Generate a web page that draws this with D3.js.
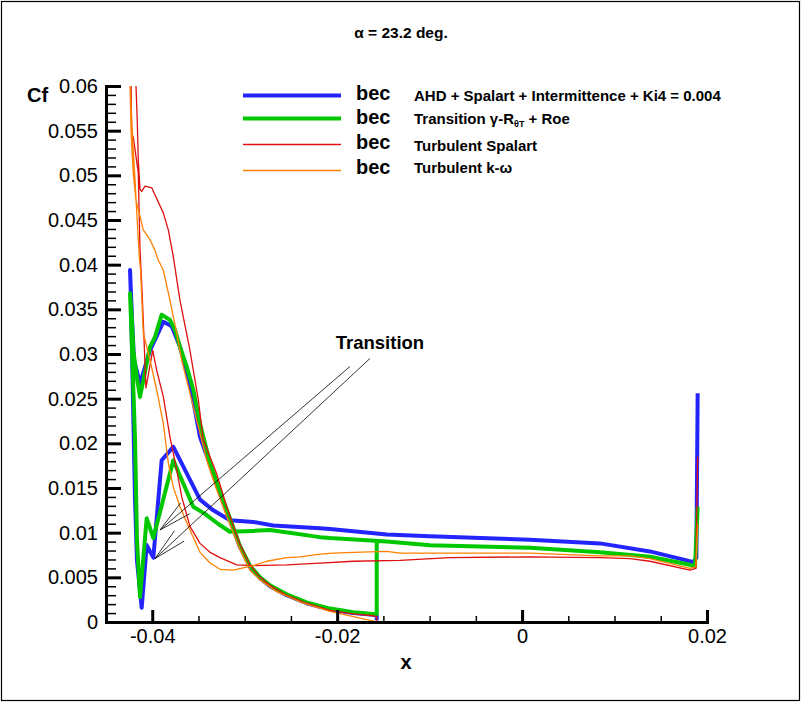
<!DOCTYPE html>
<html>
<head>
<meta charset="utf-8">
<script src="https://cdn.jsdelivr.net/npm/d3@7"></script>
<style>
  body { margin: 0; background: #fff; }
  text { font-family: "Liberation Sans", Arial, Helvetica, sans-serif; }
</style>
</head>
<body>
<svg id="chart" width="802" height="703"></svg>
<script>
// tick values and labels
let xMajor = [-0.04, -0.02, 0, 0.02]
let xLabels = ['-0.04', '-0.02', '0', '0.02']
let xMinor = [-0.045, -0.035, -0.03, -0.025, -0.015, -0.01, -0.005, 0.005, 0.01, 0.015]
let yMajor = [0, 0.005, 0.01, 0.015, 0.02, 0.025, 0.03, 0.035, 0.04, 0.045, 0.05, 0.055, 0.06]
let yLabels = ['0', '0.005', '0.01', '0.015', '0.02', '0.025', '0.03', '0.035', '0.04', '0.045', '0.05', '0.055', '0.06']

// legend
let seriesNames = ['AHD + Spalart + Intermittence + Ki4 = 0.004', 'Transition', 'Turbulent Spalart', 'Turbulent k-\u03c9']
let seriesColors = ['#2424ff', '#00c800', '#e01010', '#ff8000']
let seriesWidths = [4, 4, 1.3, 1.3]

// Cf along the slat, [x, Cf], traced around the surface
let ahdCf = [
  [0.01899, 0.0256], [0.01885, 0.0072], [0.01852, 0.0067], [0.01780, 0.0069], [0.01383, 0.0079],
  [0.00843, 0.0088], [0.00086, 0.0092], [-0.00996, 0.0096], [-0.01464, 0.0098], [-0.02077, 0.0104],
  [-0.02186, 0.0105], [-0.02691, 0.0108], [-0.02907, 0.0112], [-0.03159, 0.0114], [-0.03340, 0.0125],
  [-0.03483, 0.0137], [-0.03772, 0.0196], [-0.03898, 0.0181], [-0.03988, 0.0072], [-0.04060, 0.0086],
  [-0.04114, 0.0016], [-0.04165, 0.0069], [-0.04186, 0.0137], [-0.04208, 0.0249], [-0.04229, 0.0360],
  [-0.04240, 0.0394], [-0.04218, 0.0338], [-0.04197, 0.0293], [-0.04132, 0.0267], [-0.04024, 0.0304],
  [-0.03880, 0.0336], [-0.03789, 0.0331], [-0.03700, 0.0308], [-0.03592, 0.0267], [-0.03483, 0.0207],
  [-0.03375, 0.0176], [-0.03267, 0.0144], [-0.03159, 0.0114], [-0.03051, 0.0084], [-0.02943, 0.0062],
  [-0.02834, 0.0049], [-0.02726, 0.0040], [-0.02546, 0.0030], [-0.02330, 0.0021], [-0.02077, 0.0014],
  [-0.01825, 0.0010], [-0.01609, 0.0008], [-0.01572, 0.0007], [-0.01572, 0.0002]
]
let transitionCf = [
  [0.01899, 0.0129], [0.01870, 0.0062], [0.01816, 0.0064], [0.01383, 0.0073], [0.00843, 0.0078],
  [0.00086, 0.0083], [-0.00996, 0.0086], [-0.01464, 0.0090], [-0.02077, 0.0094], [-0.02186, 0.0095],
  [-0.02726, 0.0103], [-0.02907, 0.0102], [-0.03159, 0.0101], [-0.03289, 0.0110], [-0.03429, 0.0121],
  [-0.03556, 0.0129], [-0.03772, 0.0181], [-0.03988, 0.0094], [-0.04060, 0.0116], [-0.04132, 0.0028],
  [-0.04165, 0.0092], [-0.04186, 0.0204], [-0.04218, 0.0304], [-0.04240, 0.0368], [-0.04222, 0.0342],
  [-0.04204, 0.0304], [-0.04168, 0.0275], [-0.04132, 0.0252], [-0.04024, 0.0308], [-0.03970, 0.0319],
  [-0.03898, 0.0344], [-0.03808, 0.0338], [-0.03754, 0.0327], [-0.03700, 0.0308], [-0.03627, 0.0286],
  [-0.03556, 0.0260], [-0.03483, 0.0222], [-0.03375, 0.0178], [-0.03267, 0.0146], [-0.03159, 0.0116],
  [-0.03051, 0.0085], [-0.02943, 0.0063], [-0.02834, 0.0050], [-0.02726, 0.0041], [-0.02546, 0.0031],
  [-0.02330, 0.0022], [-0.02077, 0.0015], [-0.01825, 0.0011], [-0.01609, 0.0009], [-0.01572, 0.0009],
  [-0.01572, 0.0090]
]
let spalartCf = [
  [0.01899, 0.0185], [0.01880, 0.0060], [0.01816, 0.0058], [0.01383, 0.0068], [0.01167, 0.0071],
  [0.00843, 0.0072], [0.00086, 0.0073], [-0.00780, 0.0072], [-0.01320, 0.0069], [-0.01825, 0.0068],
  [-0.02186, 0.0066], [-0.02546, 0.0064], [-0.02907, 0.0063], [-0.03087, 0.0064], [-0.03267, 0.0072],
  [-0.03375, 0.0078], [-0.03483, 0.0088], [-0.03592, 0.0107], [-0.03681, 0.0140], [-0.03735, 0.0170],
  [-0.03808, 0.0207], [-0.03880, 0.0252], [-0.03952, 0.0282], [-0.03995, 0.0304], [-0.04068, 0.0262],
  [-0.04097, 0.0338], [-0.04114, 0.0379], [-0.04132, 0.0416], [-0.04151, 0.0503], [-0.04204, 0.0542],
  [-0.04222, 0.0547], [-0.04229, 0.0601], [-0.04245, 0.0640], [-0.04180, 0.0640], [-0.04176, 0.0601],
  [-0.04162, 0.0562], [-0.04151, 0.0517], [-0.04132, 0.0484], [-0.04114, 0.0482], [-0.04078, 0.0488],
  [-0.04005, 0.0486], [-0.03970, 0.0478], [-0.03880, 0.0458], [-0.03826, 0.0439], [-0.03772, 0.0409],
  [-0.03700, 0.0360], [-0.03592, 0.0304], [-0.03502, 0.0249], [-0.03448, 0.0204], [-0.03303, 0.0166],
  [-0.03195, 0.0129], [-0.03051, 0.0087], [-0.02943, 0.0064], [-0.02834, 0.0050], [-0.02726, 0.0041],
  [-0.02546, 0.0030], [-0.02330, 0.0021], [-0.02077, 0.0013], [-0.01825, 0.0009], [-0.01609, 0.0007],
  [-0.01572, 0.0006], [-0.01572, 0.0000]
]
let kwCf = [
  [0.01899, 0.0110], [0.01880, 0.0062], [0.01816, 0.0060], [0.01383, 0.0071], [0.01167, 0.0074],
  [0.00843, 0.0074], [0.00086, 0.0077], [-0.01320, 0.0077], [-0.01464, 0.0079], [-0.01825, 0.0078],
  [-0.02042, 0.0077], [-0.02186, 0.0076], [-0.02402, 0.0073], [-0.02546, 0.0072], [-0.02762, 0.0068],
  [-0.02907, 0.0063], [-0.03123, 0.0058], [-0.03267, 0.0059], [-0.03375, 0.0066], [-0.03483, 0.0078],
  [-0.03592, 0.0103], [-0.03700, 0.0129], [-0.03772, 0.0151], [-0.03826, 0.0178], [-0.03880, 0.0222],
  [-0.03952, 0.0260], [-0.04024, 0.0293], [-0.04097, 0.0324], [-0.04126, 0.0394], [-0.04140, 0.0409],
  [-0.04169, 0.0461], [-0.04186, 0.0495], [-0.04204, 0.0525], [-0.04222, 0.0562], [-0.04240, 0.0601],
  [-0.04250, 0.0640], [-0.04240, 0.0601], [-0.04229, 0.0551], [-0.04208, 0.0506], [-0.04176, 0.0472],
  [-0.04132, 0.0454], [-0.04097, 0.0439], [-0.04024, 0.0428], [-0.03970, 0.0416], [-0.03934, 0.0405],
  [-0.03880, 0.0394], [-0.03808, 0.0360], [-0.03735, 0.0323], [-0.03681, 0.0293], [-0.03592, 0.0256],
  [-0.03502, 0.0219], [-0.03411, 0.0181], [-0.03303, 0.0148], [-0.03195, 0.0118], [-0.03051, 0.0081],
  [-0.02943, 0.0058], [-0.02834, 0.0047], [-0.02654, 0.0034], [-0.02366, 0.0021], [-0.02077, 0.0012],
  [-0.01825, 0.0006], [-0.01609, 0.0001], [-0.01572, 0.0000]
]

// transition arrows: tail then tip, in data units
let arrowTails = [[-0.01645, 0.0295], [-0.01861, 0.0286]]
let arrowTips = [[-0.03970, 0.0071], [-0.03916, 0.0103]]

let seriesData = [ahdCf, transitionCf, spalartCf, kwCf]

let svg = d3.select('#chart')
let x = d3.scaleLinear().domain([-0.045, 0.02]).range([106, 707])
let y = d3.scaleLinear().domain([0, 0.06]).range([622, 86])

// outer frame
svg.append('rect').attr('x', 1.5).attr('y', 1.5).attr('width', 798).attr('height', 699)
  .attr('fill', 'none').attr('stroke', '#000').attr('stroke-width', 1.2)

svg.append('text').attr('x', 401).attr('y', 38).attr('text-anchor', 'middle')
  .attr('font-size', 15.5).attr('font-weight', 'bold')
  .text('\u03b1 = 23.2 deg.')

svg.append('defs').append('clipPath').attr('id', 'plotclip')
  .append('rect').attr('x', 106).attr('y', 86).attr('width', 601).attr('height', 536)

// curves
let line = d3.line().x(d => x(d[0])).y(d => y(d[1]))
let plot = svg.append('g').attr('clip-path', 'url(#plotclip)')
seriesData.forEach((data, i) => {
  plot.append('path')
    .datum(data)
    .attr('d', line)
    .attr('fill', 'none')
    .attr('stroke', seriesColors[i])
    .attr('stroke-width', seriesWidths[i])
    .attr('stroke-linejoin', 'round')
})

// axes
let styleAxis = (g, w) => {
  g.attr('font-family', '"Liberation Sans", Arial, sans-serif').attr('font-size', 20)
  g.select('.domain').attr('stroke-width', 3).attr('stroke-linecap', 'square')
  g.selectAll('.tick line').attr('stroke-width', w)
}
svg.append('g').attr('transform', `translate(0,${y(0)})`)
  .call(d3.axisBottom(x).tickValues(xMinor).tickFormat('').tickSize(-6).tickSizeOuter(0))
  .call(g => styleAxis(g, 1.5))
svg.append('g').attr('transform', `translate(0,${y(0)})`)
  .call(d3.axisBottom(x).tickValues(xMajor).tickFormat((d, i) => xLabels[i])
    .tickSize(-12).tickSizeOuter(0).tickPadding(7))
  .call(g => styleAxis(g, 3))

let yMinor = d3.range(1, 60).filter(i => i % 5).map(i => i / 1000)
svg.append('g').attr('transform', `translate(${x(-0.045)},0)`)
  .call(d3.axisLeft(y).tickValues(yMinor).tickFormat('').tickSize(-10).tickSizeOuter(0))
  .call(g => styleAxis(g, 1.5))
svg.append('g').attr('transform', `translate(${x(-0.045)},0)`)
  .call(d3.axisLeft(y).tickValues(yMajor).tickFormat((d, i) => yLabels[i])
    .tickSize(-15).tickSizeOuter(0).tickPadding(8))
  .call(g => styleAxis(g, 3))

svg.append('text').attr('x', 27).attr('y', 102).attr('font-size', 20).attr('font-weight', 'bold').text('Cf')
svg.append('text').attr('x', 406).attr('y', 669).attr('text-anchor', 'middle')
  .attr('font-size', 20).attr('font-weight', 'bold').text('x')

// legend
let legendY = [95.5, 118.5, 144.5, 170.5]
let becBaseline = [100, 124, 149, 174]
let labelBaseline = [101, 124, 151, 173]
let legend = svg.append('g')
seriesNames.forEach((name, i) => {
  legend.append('line').attr('x1', 243).attr('x2', 341).attr('y1', legendY[i]).attr('y2', legendY[i])
    .attr('stroke', seriesColors[i]).attr('stroke-width', seriesWidths[i])
  legend.append('text').attr('x', 356).attr('y', becBaseline[i])
    .attr('font-size', 20).attr('font-weight', 'bold').text('bec')
  let t = legend.append('text').attr('x', 414).attr('y', labelBaseline[i])
    .attr('font-size', 15).attr('font-weight', 'bold')
  if (i === 1) {
    t.append('tspan').text('Transition \u03b3-R')
    t.append('tspan').attr('font-size', 9).attr('dy', 3).text('\u03b8T')
    t.append('tspan').attr('dy', -3).text(' + Roe')
  } else {
    t.text(name)
  }
})

// transition annotation
svg.append('text').attr('x', x(-0.01537)).attr('y', y(0.0306)).attr('text-anchor', 'middle')
  .attr('font-size', 18.5).attr('font-weight', 'bold').text('Transition')
let notes = svg.append('g').attr('stroke', '#000').attr('stroke-width', 0.8)
arrowTips.forEach((tip, i) => {
  let tx = x(tip[0]), ty = y(tip[1])
  let sx = x(arrowTails[i][0]), sy = y(arrowTails[i][1])
  notes.append('line').attr('x1', sx).attr('y1', sy).attr('x2', tx).attr('y2', ty)
  let ang = Math.atan2(sy - ty, sx - tx)
  ;[-1, 1].forEach(s => {
    let b = ang + s * 12 * Math.PI / 180
    notes.append('line').attr('x1', tx).attr('y1', ty)
      .attr('x2', tx + 34 * Math.cos(b)).attr('y2', ty + 34 * Math.sin(b))
  })
})
</script>
</body>
</html>
